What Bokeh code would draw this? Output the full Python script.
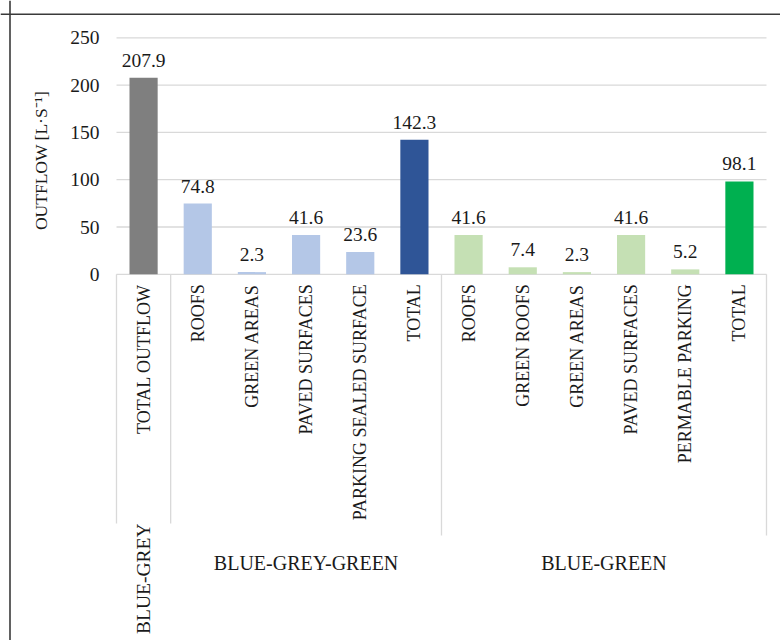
import numpy as np
from bokeh.plotting import figure
from bokeh.models import Span, Range1d
from bokeh.core.properties import value
from bokeh.embed import file_html
from bokeh.resources import INLINE

# ---------------- data ----------------
groups = ["BLUE-GREY", "BLUE-GREY-GREEN", "BLUE-GREEN"]
group_sizes = [1, 5, 6]
categories = ["TOTAL OUTFLOW", "ROOFS", "GREEN AREAS", "PAVED SURFACES",
              "PARKING SEALED SURFACE", "TOTAL",
              "ROOFS", "GREEN ROOFS", "GREEN AREAS", "PAVED SURFACES",
              "PERMABLE PARKING", "TOTAL"]
outflow = [207.9, 74.8, 2.3, 41.6, 23.6, 142.3, 41.6, 7.4, 2.3, 41.6, 5.2, 98.1]
bar_colors = ["#7f7f7f", "#b4c7e7", "#b4c7e7", "#b4c7e7", "#b4c7e7", "#2f5597",
              "#c5e0b4", "#c5e0b4", "#c5e0b4", "#c5e0b4", "#c5e0b4", "#00b050"]
y_ticks = [0, 50, 100, 150, 200, 250]
y_title = "OUTFLOW [L·S⁻¹]"

# ---------------- layout ----------------
W, H = 780, 640
PX0, SLOT = 116.0, 650.0 / 12      # pixel of x=0 and pixels per category slot
PY0, PPU = 273.8, 0.946             # pixel of y=0 and pixels per unit


def X(px):
    return (px - PX0) / SLOT


def Y(py):
    return (PY0 - py) / PPU


FONT = value("Liberation Serif")
TXT = "#1a1a1a"
GRID = "#d9d9d9"

p = figure(width=W, height=H, output_backend="svg", toolbar_location=None,
           x_range=Range1d(X(0), X(W)), y_range=Range1d(Y(H), Y(0)),
           x_axis_location=None, y_axis_location=None, min_border=0)
p.outline_line_color = None
p.grid.visible = False
p.background_fill_color = "white"

n = len(categories)
xs = np.arange(n) + 0.5

# gridlines & axis line
p.segment(x0=[0] * len(y_ticks), x1=[n] * len(y_ticks), y0=y_ticks, y1=y_ticks,
          line_color=GRID, line_width=1.3)

# bars
p.vbar(x=xs, top=outflow, bottom=0, width=0.52, fill_color=bar_colors,
       line_color=None)

# separators between groups
bounds = np.cumsum([0] + group_sizes)
sep_bottom = [Y(523), Y(523), Y(535), Y(535)]
p.segment(x0=bounds, x1=bounds, y0=[0] * len(bounds), y1=sep_bottom,
          line_color=GRID, line_width=1.3)

# y tick labels
p.text(x=[0] * len(y_ticks), y=y_ticks, text=[str(t) for t in y_ticks],
       x_offset=-17, text_align="right", text_baseline="middle",
       text_font=FONT, text_font_size="19.5px", text_color=TXT)

# value labels
p.text(x=xs, y=outflow, text=[f"{v:.1f}" for v in outflow], y_offset=-17.5,
       text_align="center", text_baseline="alphabetic",
       text_font=FONT, text_font_size="19.5px", text_color=TXT)

# category labels (vertical)
p.text(x=xs, y=[0] * n, text=categories, angle=np.pi / 2, y_offset=10,
       text_align="right", text_baseline="middle",
       text_font=FONT, text_font_size="18px", text_color=TXT)

# group labels
centers = (bounds[:-1] + bounds[1:]) / 2
p.text(x=[centers[0]], y=[Y(523)], text=[groups[0]], angle=np.pi / 2,
       text_align="right", text_baseline="middle",
       text_font=FONT, text_font_size="19.5px", text_color=TXT)
p.text(x=list(centers[1:]), y=[Y(562)] * 2, text=groups[1:],
       text_align="center", text_baseline="middle",
       text_font=FONT, text_font_size="20px", text_color=TXT)

# y axis title
p.text(x=[X(40)], y=[Y(160)], text=[y_title], angle=np.pi / 2,
       text_align="center", text_baseline="middle",
       text_font=FONT, text_font_size="17.5px", text_color=TXT)

# chart box (left and top edges visible)
p.add_layout(Span(location=X(9.5), dimension="height", line_color="#3a3a3a",
                  line_width=1.6))
p.add_layout(Span(location=Y(13.8), dimension="width", line_color="#3a3a3a",
                  line_width=1.6))

open("out.html", "w").write(file_html(p, INLINE))
